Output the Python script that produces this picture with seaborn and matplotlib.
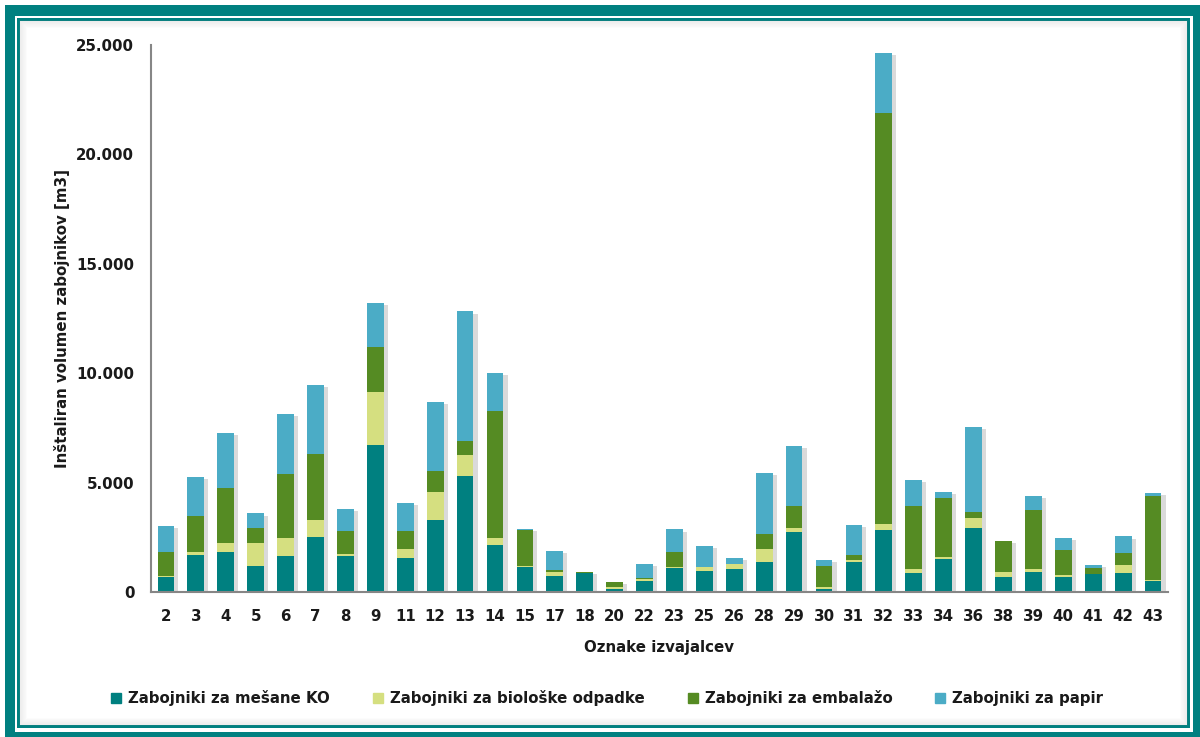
import numpy as np
import pandas as pd
import matplotlib
matplotlib.use('Agg')
import matplotlib.pyplot as plt
import matplotlib.patheffects as pe
from matplotlib.patches import Rectangle
from matplotlib.lines import Line2D
from matplotlib.ticker import FuncFormatter, FixedLocator
import seaborn as sns

# Oznake izvajalcev
oznake = ['2', '3', '4', '5', '6', '7', '8', '9', '11', '12', '13', '14', '15', '17',
          '18', '20', '22', '23', '25', '26', '28', '29', '30', '31', '32', '33', '34',
          '36', '38', '39', '40', '41', '42', '43']

# volumen zabojnikov [m3] po vrstah
mesani_ko = [670, 1710, 1830, 1200, 1660, 2510, 1660, 6730, 1540, 3270, 5310, 2160, 1130, 720,
             860, 120, 520, 1100, 980, 1070, 1390, 2730, 150, 1360, 2830, 860, 1500,
             2920, 700, 930, 700, 810, 880, 520]
bioloski = [75, 120, 430, 1050, 810, 760, 90, 2390, 430, 1300, 960, 300, 80, 180,
            10, 90, 90, 30, 140, 210, 590, 180, 80, 80, 280, 170, 100,
            470, 230, 100, 80, 10, 340, 10]
embalaza = [1100, 1630, 2510, 670, 2920, 3050, 1020, 2100, 800, 960, 620, 5830, 1610, 120,
            30, 260, 10, 680, 20, 20, 670, 1000, 960, 270, 18780, 2890, 2710,
            280, 1400, 2730, 1160, 260, 560, 3860]
papir = [1180, 1800, 2510, 670, 2730, 3140, 1020, 2010, 1280, 3140, 5930, 1710, 70, 840,
         0, 0, 670, 1050, 950, 240, 2800, 2760, 290, 1370, 2760, 1180, 250,
         3890, 0, 630, 520, 140, 760, 120]

serije = ['Zabojniki za mešane KO', 'Zabojniki za biološke odpadke',
          'Zabojniki za embalažo', 'Zabojniki za papir']
barve = ['#008080', '#d5df80', '#558b23', '#4bacc6']

df = pd.DataFrame({'oznaka': oznake, serije[0]: mesani_ko, serije[1]: bioloski,
                   serije[2]: embalaza, serije[3]: papir})
kum = df[serije].cumsum(axis=1)
kum['oznaka'] = df['oznaka']

sns.set_style('white')
plt.rcParams['font.family'] = ['DejaVu Sans']

W, H = 1200, 737
fig = plt.figure(figsize=(W / 100, H / 100), dpi=100)
fig.patch.set_facecolor('white')


def okvir(x0, y0, x1, y1, **kw):
    # pravokotnik v pikslih (y od zgoraj)
    fig.add_artist(Rectangle((x0 / W, 1 - y1 / H), (x1 - x0) / W, (y1 - y0) / H,
                             transform=fig.transFigure, zorder=-10, **kw))


# okvir slike
okvir(5, 5, W, H, facecolor='#008080', edgecolor='none')
okvir(15, 16, 1193, 732, facecolor='white', edgecolor='none')
okvir(17, 18, 1190, 728, facecolor='#008080', edgecolor='none')
okvir(20, 21, 1187, 725, facecolor='white', edgecolor='none')
for k in range(7):
    okvir(20 + k, 21 + k, 1187 - k, 725 - k, facecolor='none',
          edgecolor=(0.55, 0.55, 0.55, 0.10 - k * 0.013), linewidth=1.2)

ax = fig.add_axes([151 / W, 1 - 592 / H, 1017 / W, 547 / H])
ax.set_facecolor('none')

# zlozeni stolpci: najprej skupna vsota, nato vse nizje plasti
for i in range(len(serije) - 1, -1, -1):
    sns.barplot(data=kum, x='oznaka', y=serije[i], order=oznake, color=barve[i],
                saturation=1, width=0.56, ax=ax, linewidth=0, errorbar=None)

senca = [pe.SimplePatchShadow(offset=(3, -1.5), shadow_rgbFace='#a0a0a0', alpha=0.38),
         pe.Normal()]
for p in ax.patches[:len(oznake)]:
    p.set_path_effects(senca)

ax.set_xlim(-0.5, len(oznake) - 0.5)
ax.set_ylim(0, 25000)
ax.set_yticks(np.arange(0, 25001, 5000))
ax.yaxis.set_major_formatter(FuncFormatter(lambda v, p: f'{int(v):,}'.replace(',', '.')))

ax.xaxis.set_minor_locator(FixedLocator(np.arange(-0.5, len(oznake), 1)))
ax.tick_params(axis='x', which='major', length=0, pad=12.5)
ax.tick_params(axis='x', which='minor', length=4, width=1.2, color='#868686', direction='out')
ax.tick_params(axis='y', length=4, width=1.2, color='#868686', direction='out', pad=8)
ax.tick_params(labelsize=10.8, labelcolor='#1a1a1a')
for t in ax.get_xticklabels() + ax.get_yticklabels():
    t.set_fontweight('bold')

sns.despine(ax=ax)
for s in ['left', 'bottom']:
    ax.spines[s].set_color('#868686')
    ax.spines[s].set_linewidth(1.5)

ax.set_xlabel('Oznake izvajalcev', fontsize=10.8, fontweight='bold', color='#1a1a1a')
ax.set_ylabel('Inštaliran volumen zabojnikov [m3]', fontsize=10.8, fontweight='bold',
              color='#1a1a1a')
ax.xaxis.set_label_coords(0.5, -0.087)
ax.yaxis.set_label_coords(-0.0796, 0.5)

rocaji = [Line2D([], [], marker='s', linestyle='none', markersize=7.5,
                 markerfacecolor=b, markeredgecolor=b) for b in barve]
fig.legend(rocaji, serije, loc='center', bbox_to_anchor=(606 / W, 1 - 698 / H), ncol=4,
           frameon=False, handletextpad=0.3, columnspacing=2.7, handlelength=1.0,
           prop={'size': 10.8, 'weight': 'bold'}, labelcolor='#1a1a1a')

fig.savefig('out.png', dpi=100)
